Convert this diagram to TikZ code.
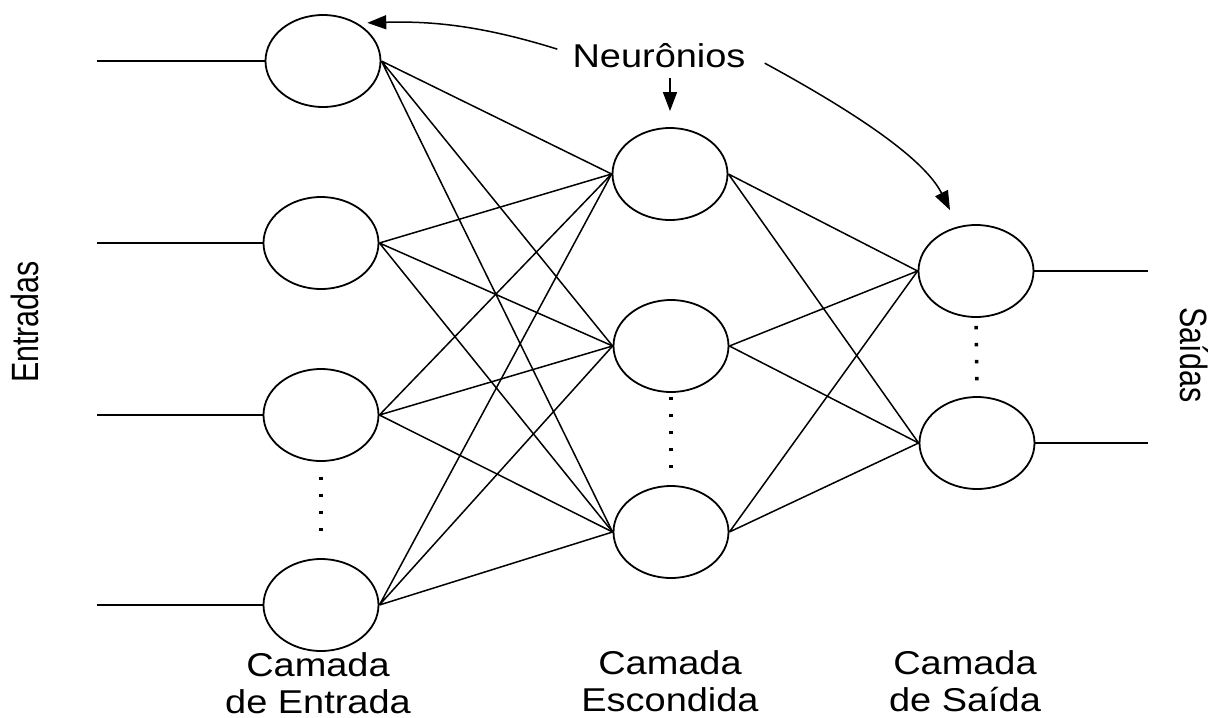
\documentclass[tikz,border=0pt]{standalone}
\usepackage{fontspec}
\usepackage{tikz}
\usetikzlibrary{shapes.geometric,arrows.meta}
\newfontfamily\lblfont[FakeStretch=1.15]{Liberation Sans}
\newfontfamily\sidefont[FakeStretch=0.8]{Liberation Sans}

\tikzset{
  neuron/.style={draw, ellipse, line width=1.8pt, minimum width=115pt, minimum height=92pt, inner sep=0pt},
  syn/.style={line width=1.5pt},
  dotgap/.style={line width=3.5pt, dash pattern=on 3.5pt off 13.5pt},
  lbl/.style={font=\lblfont\fontsize{33}{37}\selectfont, align=center, anchor=base, inner sep=0pt},
  side/.style={font=\sidefont\fontsize{38}{40}\selectfont}
}

\begin{document}
\begin{tikzpicture}[x=1pt, y=-1pt, >={Triangle[length=19pt,width=14pt]}]
            \useasboundingbox (0,0) rectangle (1219,718);
            % camada de entrada
            \node[neuron] (i1) at (323,61) {};
            \node[neuron] (i2) at (321,243) {};
            \node[neuron] (i3) at (321,415) {};
            \node[neuron] (i4) at (321,605) {};
            % camada escondida
            \node[neuron] (h1) at (670,174) {};
            \node[neuron] (h2) at (671,346) {};
            \node[neuron] (h3) at (671,532) {};
            % camada de saida
            \node[neuron] (o1) at (976,271) {};
            \node[neuron] (o2) at (977,443) {};

            \coordinate (in1) at (97,61);
            \coordinate (in2) at (97,243);
            \coordinate (in3) at (97,415);
            \coordinate (in4) at (97,605);
            \coordinate (out1) at (1148,271);
            \coordinate (out2) at (1148,443);

            \draw[syn] (in1) -- (i1.west);
            \draw[syn] (in2) -- (i2.west);
            \draw[syn] (in3) -- (i3.west);
            \draw[syn] (in4) -- (i4.west);
            \draw[syn] (o1.east) -- (out1);
            \draw[syn] (o2.east) -- (out2);

            \draw[syn] (i1.east) -- (h1.west) (i1.east) -- (h2.west) (i1.east) -- (h3.west);
            \draw[syn] (i2.east) -- (h1.west) (i2.east) -- (h2.west) (i2.east) -- (h3.west);
            \draw[syn] (i3.east) -- (h1.west) (i3.east) -- (h2.west) (i3.east) -- (h3.west);
            \draw[syn] (i4.east) -- (h1.west) (i4.east) -- (h2.west) (i4.east) -- (h3.west);
            \draw[syn] (h1.east) -- (o1.west) (h1.east) -- (o2.west);
            \draw[syn] (h2.east) -- (o1.west) (h2.east) -- (o2.west);
            \draw[syn] (h3.east) -- (o1.west) (h3.east) -- (o2.west);

            \draw[dotgap] ([yshift=-15pt]i3.south) -- ([yshift=14pt]i4.north);
            \draw[dotgap] ([yshift=-4pt]h2.south) -- ([yshift=4pt]h3.north);
            \draw[dotgap] ([yshift=-8pt]o1.south) -- ([yshift=5pt]o2.north);

            \node[lbl] (neur) at (659,67) {Neurônios};
            \draw[syn,->] ([xshift=-15pt,yshift=6pt]neur.west) .. controls (480,25) and (430,21) .. ([xshift=3pt,yshift=5pt]i1.north east);
            \draw[syn,->] ([yshift=-10pt]h1.north |- neur.south) -- ([yshift=16pt]h1.north);
            \draw[syn,->] ([xshift=19pt,yshift=-8pt]neur.east) .. controls (860,115) and (925,160) .. ([xshift=-26pt,yshift=14pt]o1.north);

            \node[lbl] (cin) at (318,713) {Camada\\de Entrada};
            \node[lbl] (chid) at (670,711) {Camada\\Escondida};
            \node[lbl] (cout) at (965,711) {Camada\\de Saída};
            \node[side, rotate=90] (ent) at (25,322) {Entradas};
            \node[side, rotate=-90] (sai) at (1194,355) {Saídas};
        \end{tikzpicture}
\end{document}
